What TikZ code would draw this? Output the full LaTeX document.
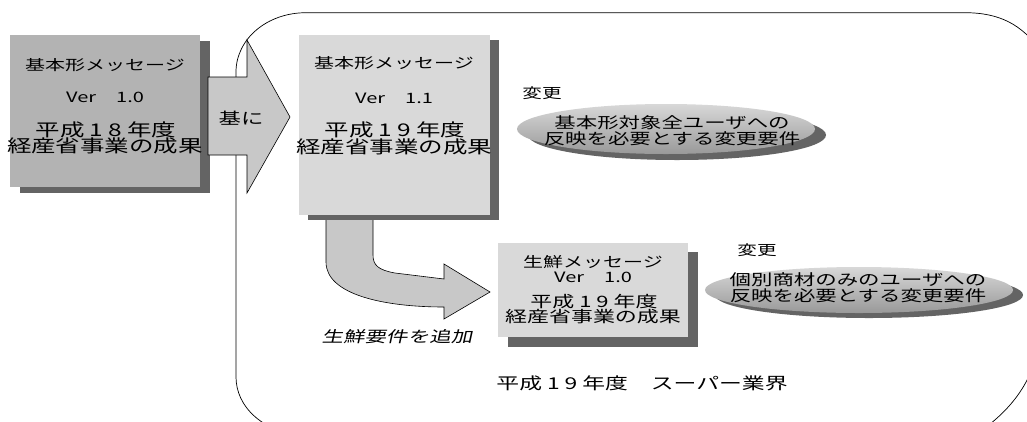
\documentclass[tikz,border=0pt]{standalone}
\usepackage{fontspec}
\newfontfamily\jp[FakeStretch=1.4]{Noto Sans CJK JP}
\newfontfamily\jpit[FakeStretch=1.4,FakeSlant=0.22]{Noto Sans CJK JP}
\usetikzlibrary{shapes.geometric}
\definecolor{boxdark}{HTML}{B3B3B3}
\definecolor{boxlight}{HTML}{D9D9D9}
\definecolor{shadowc}{HTML}{646464}
\definecolor{arrowc}{HTML}{C8C8C8}
\definecolor{elltop}{HTML}{D8D8D8}
\definecolor{ellbot}{HTML}{999999}
\newcommand{\dg}[1]{\kern5pt#1\kern5pt}
\tikzset{
  txt/.style={inner sep=0pt, text=black},
  ttl/.style={txt, font=\jp\fontsize{14.3}{16}\selectfont},
  mainl/.style={txt, font=\jp\fontsize{17.5}{18}\selectfont},
  smalll/.style={txt, font=\jp\fontsize{15.7}{17}\selectfont},
  ellt/.style={txt, font=\jp\fontsize{15.3}{16}\selectfont, align=center},
  msgbox/.style={draw=none, inner sep=0pt},
  shad/.style={fill=shadowc},
  blockarrow/.style={fill=arrowc, draw=black, line width=0.6pt, line join=miter},
  ellfill/.style={top color=elltop, bottom color=ellbot, draw=none},
  frame/.style={draw=black, line width=0.7pt}
}
\begin{document}
\begin{tikzpicture}[x=1pt,y=-1pt]
\clip (0,0) rectangle (1027,421);
\fill[white] (0,0) rectangle (1027,421);
% big rounded frame
\draw[frame] (306,12.7) -- (965,12.7) .. controls (1000,12.7) and (1022,25) .. (1040,50)
  -- (1040,330) .. controls (1038,370) and (1020,405) .. (975,435)
  -- (320,440) .. controls (260,435) and (236,405) .. (236,377)
  -- (236,72) .. controls (236,39) and (267,12.7) .. (306,12.7) -- cycle;
% box 1
\fill[shad] (20,41) rectangle (210,193);
\node[msgbox, fill=boxdark, minimum width=190pt, minimum height=152pt] (b1) at (105,111) {};
% arrow 基に
\draw[blockarrow] (208,77) -- (247,77) -- (247,40) -- (290,117) -- (247,193) -- (247,155) -- (208,155) -- cycle;
\node[txt, font=\jp\fontsize{16}{17}\selectfont] (kini) at (241,118) {基に};
% curved arrow
\draw[blockarrow] (326,219) -- (326,262) .. controls (326,295) and (385,307) .. (444,307)
  -- (444,319) -- (490,292) -- (444,264) -- (444,279) -- (395,273)
  .. controls (378,270) and (373,265) .. (373,255) -- (373,219) -- cycle;
\node[txt, font=\jpit\fontsize{15.4}{16}\selectfont] (add) at (397,337) {生鮮要件を追加};
% box 2
\fill[shad] (308,40) rectangle (499,220);
\node[msgbox, fill=boxlight, minimum width=191pt, minimum height=180pt] (b2) at (394.5,125) {};
% box 3
\fill[shad] (508,252) rectangle (698,347);
\node[msgbox, fill=boxlight, minimum width=190pt, minimum height=94pt] (b3) at (593,290) {};
% box 1 text
\node[ttl] (b1t) at (105,65) {基本形メッセージ};
\node[ttl] (b1v) at (105,97) {Ver　1.0};
\node[mainl] (b1y) at (106,130) {平成\dg{1}\kern-5pt\dg{8}年度};
\node[mainl] (b1r) at (105,146) {経産省事業の成果};
% box 2 text
\node[ttl] (b2t) at (394,63) {基本形メッセージ};
\node[ttl] (b2v) at (394,98) {Ver　1.1};
\node[mainl] (b2y) at (395,130) {平成\dg{1}\kern-5pt\dg{9}年度};
\node[mainl] (b2r) at (394,147) {経産省事業の成果};
% box 3 text
\node[ttl] (b3t) at (593,262) {生鮮メッセージ};
\node[ttl] (b3v) at (593,277) {Ver　1.0};
\node[smalll] (b3y) at (594,302) {平成\dg{1}\kern-5pt\dg{9}年度};
\node[smalll] (b3r) at (593,317) {経産省事業の成果};
% ellipse 1
\node[txt, font=\jp\fontsize{14}{15}\selectfont] (ch1) at (542,93) {変更};
\fill[shad] (677,135) ellipse [x radius=149, y radius=25];
\path[ellfill] (666,129) ellipse [x radius=149, y radius=25];
\node[ellt] (e1) at (672,131) {基本形対象全ユーザへの\\反映を必要とする変更要件};
% ellipse 2
\node[txt, font=\jp\fontsize{14}{15}\selectfont] (ch2) at (757,250) {変更};
\fill[shad] (869,295) ellipse [x radius=154, y radius=23];
\path[ellfill] (859,290) ellipse [x radius=154, y radius=23];
\node[ellt] (e2) at (858,288) {個別商材のみのユーザへの\\反映を必要とする変更要件};
% bottom label
\node[txt, font=\jp\fontsize{16.3}{17}\selectfont] (area) at (642,383) {平成\dg{1}\kern-5pt\dg{9}年度　スーパー業界};
\end{tikzpicture}
\end{document}
